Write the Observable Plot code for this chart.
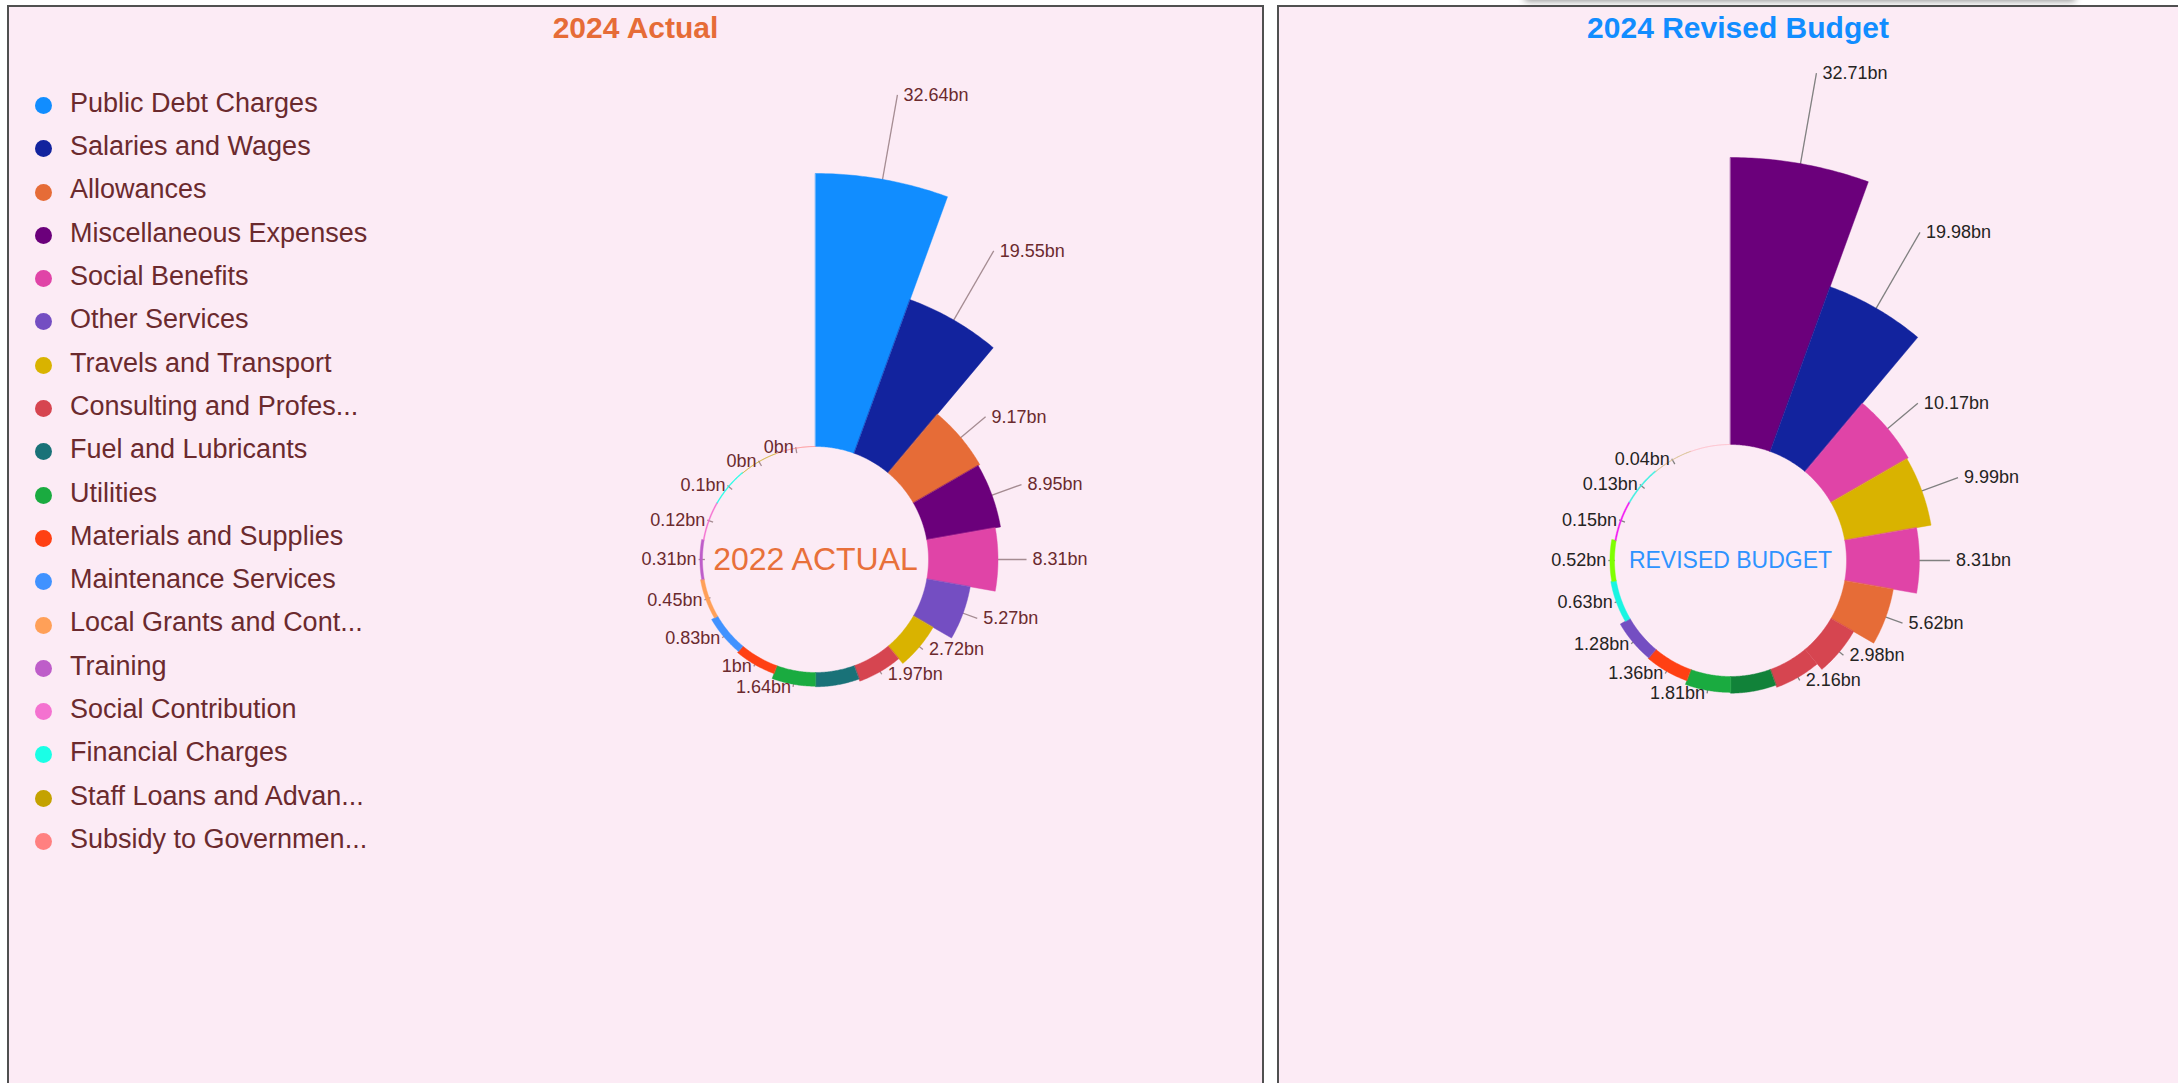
<!DOCTYPE html>
<html>
<head>
<meta charset="utf-8">
<script src="https://cdn.jsdelivr.net/npm/d3@7"></script>
<script src="https://cdn.jsdelivr.net/npm/@observablehq/plot@0.6"></script>
<style>
  html, body { margin: 0; padding: 0; background: #ffffff; width: 2178px; height: 1083px; overflow: hidden;
    font-family: "Liberation Sans", Arial, sans-serif; }
  .panel { position: absolute; top: 5px; height: 1090px; background: #FCEBF5; border: 2px solid #505050; box-sizing: border-box; }
  #left { left: 7px; width: 1257px; }
  #right { left: 1277px; width: 922px; }
  .title { position: absolute; top: 6px; left: 0; right: 0; text-align: center; font-weight: bold;
    font-size: 30px; line-height: 30px; white-space: nowrap; }
  .chart { position: absolute; left: 0; top: 0; }
  .lg-row { position: absolute; left: 0; height: 30px; line-height: 30px; font-size: 27px; color: #6B2A2E; white-space: nowrap; }
  .lg-dot { position: absolute; left: 25.5px; top: 9.2px; width: 17px; height: 17px; border-radius: 50%; }
  .lg-text { position: absolute; left: 61px; top: 0; }
  #shadow { position: absolute; left: 1525px; top: -12px; width: 550px; height: 12px; background: #fff;
    box-shadow: 0 1px 7px rgba(0,0,0,0.45); }
</style>
</head>
<body>
<div id="left" class="panel"></div>
<div id="right" class="panel"></div>
<div id="shadow"></div>
<script>
// ---------- data ----------
const actualCategories = [
  "Public Debt Charges", "Salaries and Wages", "Allowances", "Miscellaneous Expenses",
  "Social Benefits", "Other Services", "Travels and Transport", "Consulting and Profes...",
  "Fuel and Lubricants", "Utilities", "Materials and Supplies", "Maintenance Services",
  "Local Grants and Cont...", "Training", "Social Contribution", "Financial Charges",
  "Staff Loans and Advan...", "Subsidy to Governmen..."
];
const actualValues = [32.64, 19.55, 9.17, 8.95, 8.31, 5.27, 2.72, 1.97, 1.7, 1.64, 1, 0.83, 0.45, 0.31, 0.12, 0.1, 0, 0];
const actualColors = [
  "#118DFF", "#12239E", "#E66C37", "#6B007B", "#E044A7", "#744EC2", "#D9B300", "#D64550",
  "#197278", "#1AAB40", "#FF4013", "#4092FF", "#FFA058", "#BE5DC9", "#F472D0", "#1AFFE6",
  "#C4A200", "#FF8080"
];

const budgetSlices = ["R1","R2","R3","R4","R5","R6","R7","R8","R9","R10","R11","R12","R13","R14","R15","R16","R17","R18"];
const budgetValues = [32.71, 19.98, 10.17, 9.99, 8.31, 5.62, 2.98, 2.16, 1.9, 1.81, 1.36, 1.28, 0.63, 0.52, 0.15, 0.13, 0.04, null];
const budgetColors = [
  "#6B007B", "#12239E", "#E044A7", "#D9B300", "#E044A7", "#E66C37", "#D64550", "#D64550",
  "#118239", "#1AAB40", "#FF4013", "#744EC2", "#1AF5E2", "#7FFF00", "#F21DF2", "#3FF0E0",
  "#D8BE8C", "#FFB6C1"
];

const titles = ["2024 Actual", "2024 Revised Budget"];
const centerTexts = ["2022 ACTUAL", "REVISED BUDGET"];

// ---------- rose chart ----------
function roseChart(host, cfg) {
  const n = cfg.values.length, step = 360 / n;
  const rad = d3.scaleLinear().domain([0, d3.max(cfg.values)]).range([cfg.r0, cfg.rMax]);
  const leader = d3.scaleLinear().domain([0, 2, 3, 10, 20, 33]).range([1, 3, 5, 36, 82, 86]).clamp(true);
  const k = Math.PI / 180;
  const pt = (r, a) => [r * Math.sin(a * k), r * Math.cos(a * k)];

  const shapes = [];
  cfg.values.forEach((v, i) => {
    const a0 = i * step, a1 = (i + 1) * step, ro = rad(v ?? 0);
    for (let a = a0; a <= a1 + 1e-6; a += 0.5) { const [x, y] = pt(ro, a); shapes.push({key: cfg.keys[i], x, y}); }
    for (let a = a1; a >= a0 - 1e-6; a -= 0.5) { const [x, y] = pt(cfg.r0, a); shapes.push({key: cfg.keys[i], x, y}); }
  });

  const labels = [], boxes = [];
  cfg.values.forEach((v, i) => {
    if (v == null) return;
    const mid = (i + 0.5) * step, ro = rad(v), rs = ro - 5, re = ro + leader(v) * cfg.leaderScale;
    const [x1, y1] = pt(rs, mid), [x2, y2] = pt(re, mid);
    const text = `${v}bn`, w = text.length * 0.52 * cfg.fontSize, h = 18, pad = 3;
    const right = mid < 180;
    const bx0 = right ? x2 + 6 : x2 - 2 - w, bx1 = bx0 + w, by0 = y2 - h / 2, by1 = y2 + h / 2;
    if (boxes.some(b => bx0 - pad < b[1] && bx1 + pad > b[0] && by0 < b[3] && by1 > b[2])) return;
    boxes.push([bx0 - pad, bx1 + pad, by0, by1]);
    labels.push({x1, y1, x2, y2, text, right});
  });

  const svg = Plot.plot({
    width: cfg.W, height: cfg.H, margin: 0,
    x: {domain: [-cfg.cx, cfg.W - cfg.cx], axis: null},
    y: {domain: [-(cfg.H - cfg.cy), cfg.cy], axis: null},
    color: {domain: cfg.keys, range: cfg.colors},
    style: {background: "transparent", fontFamily: "'Liberation Sans', Arial, sans-serif", overflow: "visible"},
    marks: [
      Plot.link(labels, {x1: "x1", y1: "y1", x2: "x2", y2: "y2", stroke: cfg.leaderColor, strokeWidth: 1.3}),
      Plot.line(shapes, {x: "x", y: "y", z: "key", fill: "key", stroke: "key", strokeWidth: 1, strokeOpacity: 0.45, curve: "linear-closed"}),
      Plot.text(labels.filter(d => d.right), {x: "x2", y: "y2", text: "text", textAnchor: "start", dx: 6, fill: cfg.labelColor, fontSize: cfg.fontSize}),
      Plot.text(labels.filter(d => !d.right), {x: "x2", y: "y2", text: "text", textAnchor: "end", dx: -2, fill: cfg.labelColor, fontSize: cfg.fontSize}),
      Plot.text([cfg.centerText], {x: 0, y: 0, text: d => d, fill: cfg.centerColor, fontSize: cfg.centerSize})
    ]
  });
  svg.classList.add("chart");
  host.appendChild(svg);
}

// ---------- left panel ----------
const left = document.getElementById("left");
roseChart(left, {
  values: actualValues, keys: actualCategories, colors: actualColors,
  r0: 113, rMax: 386, W: 1253, H: 1086, cx: 806, cy: 552, leaderScale: 1,
  labelColor: "#6B2A2E", leaderColor: "#A58C92", fontSize: 18,
  centerText: centerTexts[0], centerColor: "#E8703A", centerSize: 32
});
const t1 = document.createElement("div");
t1.className = "title"; t1.style.color = "#E66C37"; t1.textContent = titles[0];
left.appendChild(t1);
actualCategories.forEach((c, i) => {
  const row = document.createElement("div");
  row.className = "lg-row";
  row.style.top = (80.8 + 43.3 * i) + "px";
  const dot = document.createElement("span");
  dot.className = "lg-dot"; dot.style.background = actualColors[i];
  const tx = document.createElement("span");
  tx.className = "lg-text"; tx.textContent = c;
  row.appendChild(dot); row.appendChild(tx);
  left.appendChild(row);
});

// ---------- right panel ----------
const right = document.getElementById("right");
roseChart(right, {
  values: budgetValues, keys: budgetSlices, colors: budgetColors,
  r0: 116, rMax: 403, W: 918, H: 1086, cx: 451, cy: 553, leaderScale: 1.07,
  labelColor: "#252423", leaderColor: "#808080", fontSize: 18,
  centerText: centerTexts[1], centerColor: "#2E93FF", centerSize: 23
});
const t2 = document.createElement("div");
t2.className = "title"; t2.style.color = "#118DFF"; t2.textContent = titles[1];
right.appendChild(t2);
</script>
</body>
</html>
